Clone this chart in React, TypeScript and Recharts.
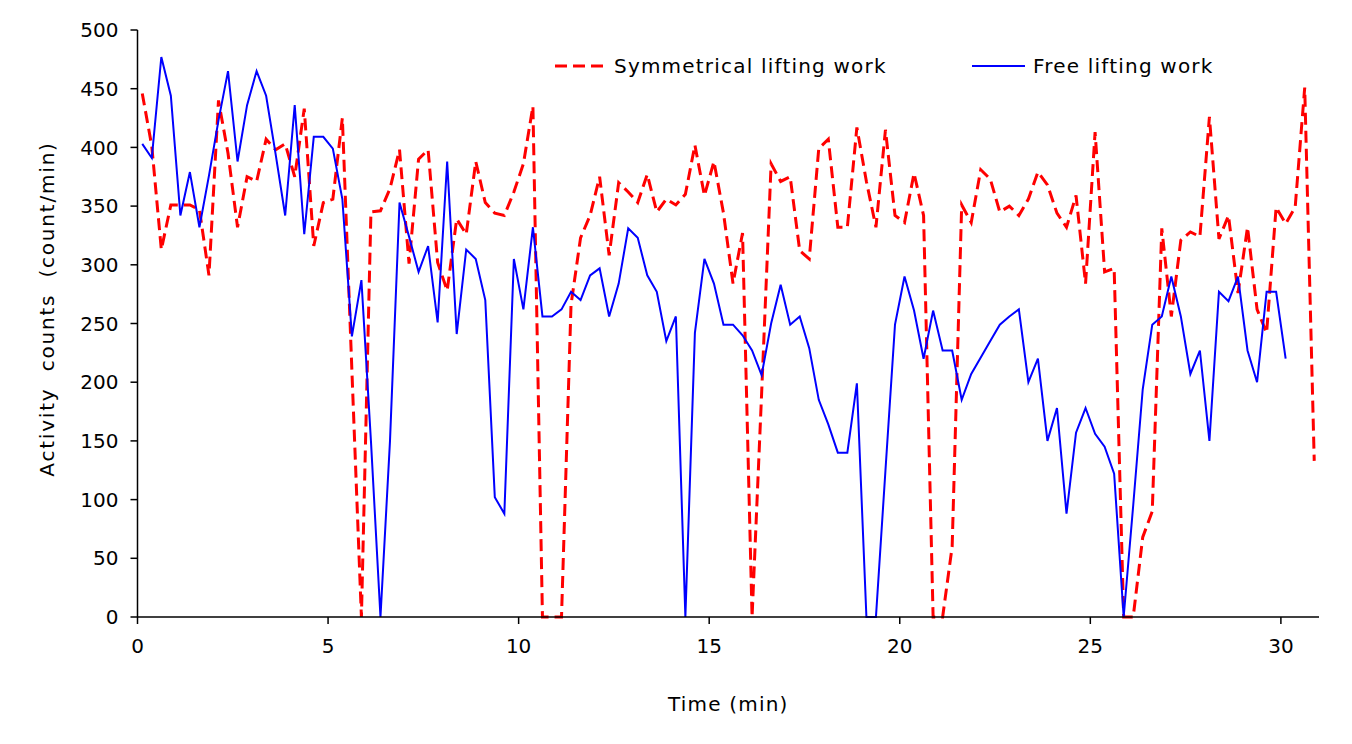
import React from "react";
import { LineChart, Line, XAxis, YAxis, Legend } from "recharts";

// activity counts, one reading every 15 s, first one at 0.125 min
const startMin = 0.125;
const stepMin = 0.25;

const symmetricalCounts = [
  446, 401, 313, 351, 351, 351, 347, 291, 440, 395,
  332, 375, 371, 407, 398, 403, 375, 433, 316, 353,
  356, 425, 210, 0, 345, 346, 365, 398, 301, 390,
  398, 302, 278, 339, 326, 388, 353, 344, 342, 362,
  386, 435, 0, 0, 0, 266, 323, 342, 375, 308,
  370, 362, 353, 377, 345, 356, 351, 360, 402, 359,
  388, 344, 284, 327, 0, 190, 386, 371, 375, 312,
  305, 399, 407, 332, 332, 417, 371, 332, 415, 342,
  336, 378, 342, 0, 0, 60, 351, 336, 381, 373,
  345, 350, 342, 356, 379, 368, 344, 332, 359, 284,
  413, 294, 297, 0, 0, 68, 90, 331, 256, 321,
  328, 324, 426, 322, 342, 276, 332, 262, 242, 349,
  335, 349, 451, 133,
];

const freeCounts = [
  403, 391, 477, 444, 342, 379, 332, 376, 423, 465,
  388, 436, 465, 444, 394, 342, 436, 326, 409, 409,
  399, 356, 239, 287, 150, 0, 150, 353, 324, 294,
  316, 251, 388, 241, 313, 305, 270, 102, 88, 305,
  262, 332, 256, 256, 262, 277, 270, 291, 297, 256,
  284, 331, 323, 291, 277, 235, 256, 0, 242, 305,
  284, 249, 249, 240, 227, 206, 250, 283, 249, 256,
  229, 185, 164, 140, 140, 199, 0, 0, 125, 249,
  290, 261, 220, 261, 227, 227, 185, 207, 221, 235,
  249, 256, 262, 200, 220, 150, 178, 88, 157, 178,
  156, 145, 122, 0, 95, 194, 249, 256, 290, 256,
  207, 227, 150, 277, 269, 290, 227, 200, 277, 277,
  220,
];

const xTicks = [0, 5, 10, 15, 20, 25, 30];
const yTicks = [0, 50, 100, 150, 200, 250, 300, 350, 400, 450, 500];

const seriesNames = ["Symmetrical lifting work", "Free lifting work"];

const data = symmetricalCounts.map((v, i) => ({
  time: startMin + i * stepMin,
  symmetrical: v,
  free: i < freeCounts.length ? freeCounts[i] : null,
}));

const FONT = "'DejaVu Sans', sans-serif";

const renderLegend = () => (
  <svg width={700} height={30} style={{ display: "block" }}>
    <line x1={10} y1={15} x2={60} y2={15} stroke="#ff0000" strokeWidth={3} strokeDasharray="12 6" />
    <text x={69} y={22} fontSize={20} fontFamily={FONT} letterSpacing={1.2} fill="#000">
      {seriesNames[0]}
    </text>
    <line x1={427} y1={15} x2={480} y2={15} stroke="#0000ff" strokeWidth={2} />
    <text x={488} y={22} fontSize={20} fontFamily={FONT} letterSpacing={1.2} fill="#000">
      {seriesNames[1]}
    </text>
  </svg>
);

// y title sits a little above the middle of the plot, as in the original
const renderYTitle = () => (
  <text
    x={39}
    y={301}
    transform="rotate(-90, 39, 301)"
    textAnchor="middle"
    dominantBaseline="central"
    fontSize={20}
    fontFamily={FONT}
    letterSpacing={1.8}
    wordSpacing={8}
    fill="#000"
  >
    Activity counts (count/min)
  </text>
);

export default function App() {
  const tickStyle = { fontSize: 20, fontFamily: FONT, fill: "#000" };
  return (
    <div style={{ width: 1344, height: 728, background: "#fff" }}>
      <LineChart
        width={1344}
        height={728}
        data={data}
        margin={{ top: 22, right: 33, left: 0, bottom: 19 }}
      >
        <XAxis
          dataKey="time"
          type="number"
          domain={[0, 31]}
          ticks={xTicks}
          tick={tickStyle}
          tickSize={7}
          tickMargin={15}
          height={100}
          stroke="#000"
          strokeWidth={1.5}
          allowDataOverflow
          label={{
            value: "Time (min)",
            position: "insideBottom",
            offset: 6,
            style: { fontSize: 20, fontFamily: FONT, fill: "#000", letterSpacing: 1.2 },
          }}
        />
        <YAxis
          type="number"
          domain={[0, 500]}
          ticks={yTicks}
          tick={tickStyle}
          tickSize={7}
          tickMargin={12}
          width={129.5}
          stroke="#000"
          strokeWidth={1.5}
          label={{ content: renderYTitle }}
        />
        <Legend
          layout="vertical"
          align="center"
          verticalAlign="middle"
          content={renderLegend}
          wrapperStyle={{ top: 43, left: 537, width: 700, height: 30 }}
        />
        <Line
          dataKey="symmetrical"
          name={seriesNames[0]}
          type="linear"
          stroke="#ff0000"
          strokeWidth={3}
          strokeDasharray="12 6"
          dot={false}
          activeDot={false}
          isAnimationActive={false}
        />
        <Line
          dataKey="free"
          name={seriesNames[1]}
          type="linear"
          stroke="#0000ff"
          strokeWidth={2}
          dot={false}
          activeDot={false}
          isAnimationActive={false}
        />
      </LineChart>
    </div>
  );
}
